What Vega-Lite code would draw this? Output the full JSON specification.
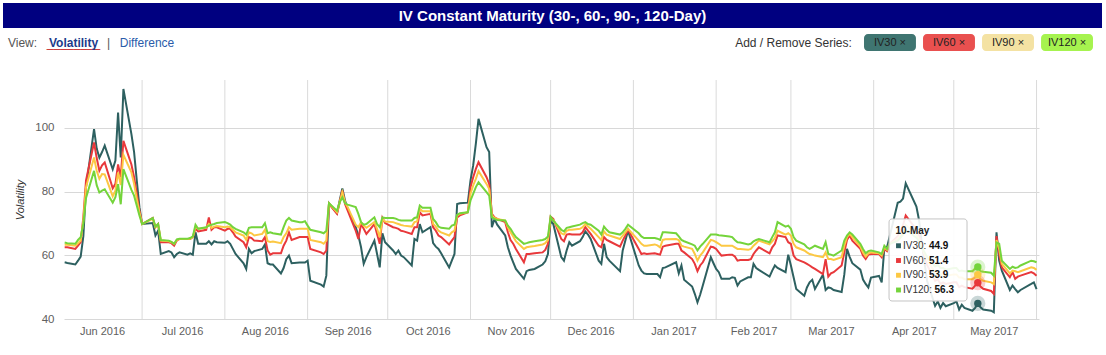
{
  "$schema": "https://vega.github.io/schema/vega-lite/v6.json",
  "background": "#ffffff",
  "padding": {"left": 3, "top": 3, "right": 3, "bottom": 3},
  "config": {"view": {"stroke": null}, "font": "Liberation Sans"},
  "datasets": {
    "iv": [
      {"date": "2016-06-02", "IV30": 57.8, "IV60": 62.5, "IV90": 63.3, "IV120": 64.0},
      {"date": "2016-06-03", "IV30": 57.6, "IV60": 62.5, "IV90": 63.3, "IV120": 63.8},
      {"date": "2016-06-06", "IV30": 57.1, "IV60": 62.0, "IV90": 63.0, "IV120": 63.6},
      {"date": "2016-06-07", "IV30": 58.3, "IV60": 63.0, "IV90": 63.8, "IV120": 64.8},
      {"date": "2016-06-08", "IV30": 59.6, "IV60": 64.1, "IV90": 64.6, "IV120": 65.7},
      {"date": "2016-06-09", "IV30": 66.0, "IV60": 72.0, "IV90": 71.0, "IV120": 70.0},
      {"date": "2016-06-10", "IV30": 81.4, "IV60": 83.5, "IV90": 81.4, "IV120": 78.0},
      {"date": "2016-06-13", "IV30": 99.6, "IV60": 95.4, "IV90": 90.7, "IV120": 86.5},
      {"date": "2016-06-14", "IV30": 93.5, "IV60": 90.5, "IV90": 86.5, "IV120": 82.0},
      {"date": "2016-06-15", "IV30": 90.6, "IV60": 86.5, "IV90": 84.0, "IV120": 79.7},
      {"date": "2016-06-16", "IV30": 92.4, "IV60": 88.2, "IV90": 85.5, "IV120": 80.3},
      {"date": "2016-06-17", "IV30": 94.4, "IV60": 89.1, "IV90": 85.4, "IV120": 80.7},
      {"date": "2016-06-20", "IV30": 87.0, "IV60": 81.0, "IV90": 78.5, "IV120": 76.5},
      {"date": "2016-06-21", "IV30": 89.7, "IV60": 82.4, "IV90": 80.3, "IV120": 78.2},
      {"date": "2016-06-22", "IV30": 104.8, "IV60": 88.5, "IV90": 86.0, "IV120": 82.3},
      {"date": "2016-06-23", "IV30": 90.7, "IV60": 84.5, "IV90": 82.0, "IV120": 76.0},
      {"date": "2016-06-24", "IV30": 112.2, "IV60": 95.9, "IV90": 91.5, "IV120": 87.0},
      {"date": "2016-06-27", "IV30": 98.0, "IV60": 88.5, "IV90": 86.0, "IV120": 80.5},
      {"date": "2016-06-28", "IV30": 92.4, "IV60": 84.5, "IV90": 82.4, "IV120": 78.7},
      {"date": "2016-06-29", "IV30": 83.5, "IV60": 79.3, "IV90": 77.7, "IV120": 75.6},
      {"date": "2016-06-30", "IV30": 75.1, "IV60": 74.0, "IV90": 73.5, "IV120": 72.5},
      {"date": "2016-07-01", "IV30": 69.8, "IV60": 69.8, "IV90": 69.8, "IV120": 69.8},
      {"date": "2016-07-05", "IV30": 70.1, "IV60": 71.7, "IV90": 71.4, "IV120": 71.7},
      {"date": "2016-07-06", "IV30": 66.2, "IV60": 68.8, "IV90": 68.8, "IV120": 69.0},
      {"date": "2016-07-07", "IV30": 67.7, "IV60": 69.8, "IV90": 69.6, "IV120": 69.8},
      {"date": "2016-07-08", "IV30": 60.4, "IV60": 64.1, "IV90": 64.6, "IV120": 64.8},
      {"date": "2016-07-11", "IV30": 61.3, "IV60": 64.1, "IV90": 64.4, "IV120": 64.6},
      {"date": "2016-07-12", "IV30": 60.9, "IV60": 63.8, "IV90": 64.1, "IV120": 64.2},
      {"date": "2016-07-13", "IV30": 59.4, "IV60": 63.0, "IV90": 63.6, "IV120": 63.6},
      {"date": "2016-07-14", "IV30": 60.4, "IV60": 64.6, "IV90": 64.8, "IV120": 65.0},
      {"date": "2016-07-15", "IV30": 60.9, "IV60": 65.1, "IV90": 65.1, "IV120": 65.2},
      {"date": "2016-07-18", "IV30": 60.2, "IV60": 65.1, "IV90": 65.1, "IV120": 65.2},
      {"date": "2016-07-19", "IV30": 60.6, "IV60": 65.1, "IV90": 65.2, "IV120": 65.4},
      {"date": "2016-07-20", "IV30": 60.2, "IV60": 65.7, "IV90": 65.7, "IV120": 65.9},
      {"date": "2016-07-21", "IV30": 67.2, "IV60": 68.3, "IV90": 68.8, "IV120": 69.6},
      {"date": "2016-07-22", "IV30": 63.6, "IV60": 67.5, "IV90": 68.3, "IV120": 68.3},
      {"date": "2016-07-25", "IV30": 63.6, "IV60": 68.0, "IV90": 68.6, "IV120": 68.8},
      {"date": "2016-07-26", "IV30": 64.4, "IV60": 71.9, "IV90": 69.8, "IV120": 69.3},
      {"date": "2016-07-27", "IV30": 63.4, "IV60": 68.0, "IV90": 68.6, "IV120": 69.6},
      {"date": "2016-07-28", "IV30": 64.4, "IV60": 68.8, "IV90": 69.0, "IV120": 69.8},
      {"date": "2016-07-29", "IV30": 64.1, "IV60": 68.8, "IV90": 69.2, "IV120": 70.1},
      {"date": "2016-08-01", "IV30": 63.9, "IV60": 67.7, "IV90": 68.8, "IV120": 70.4},
      {"date": "2016-08-02", "IV30": 64.4, "IV60": 68.3, "IV90": 69.0, "IV120": 70.1},
      {"date": "2016-08-03", "IV30": 63.6, "IV60": 68.3, "IV90": 68.8, "IV120": 69.6},
      {"date": "2016-08-04", "IV30": 62.0, "IV60": 67.2, "IV90": 68.0, "IV120": 68.8},
      {"date": "2016-08-05", "IV30": 60.4, "IV60": 65.9, "IV90": 67.2, "IV120": 68.3},
      {"date": "2016-08-08", "IV30": 57.5, "IV60": 64.1, "IV90": 66.2, "IV120": 67.2},
      {"date": "2016-08-09", "IV30": 55.7, "IV60": 62.5, "IV90": 64.8, "IV120": 66.5},
      {"date": "2016-08-10", "IV30": 62.0, "IV60": 65.7, "IV90": 67.2, "IV120": 68.6},
      {"date": "2016-08-11", "IV30": 60.6, "IV60": 65.4, "IV90": 66.9, "IV120": 68.8},
      {"date": "2016-08-12", "IV30": 61.3, "IV60": 64.6, "IV90": 66.2, "IV120": 68.8},
      {"date": "2016-08-15", "IV30": 62.0, "IV60": 64.4, "IV90": 66.7, "IV120": 68.8},
      {"date": "2016-08-16", "IV30": 63.4, "IV60": 65.7, "IV90": 68.0, "IV120": 70.1},
      {"date": "2016-08-17", "IV30": 57.5, "IV60": 61.5, "IV90": 64.4, "IV120": 66.9},
      {"date": "2016-08-18", "IV30": 57.1, "IV60": 60.2, "IV90": 64.2, "IV120": 67.2},
      {"date": "2016-08-19", "IV30": 57.1, "IV60": 60.6, "IV90": 64.3, "IV120": 66.9},
      {"date": "2016-08-22", "IV30": 54.3, "IV60": 60.6, "IV90": 63.8, "IV120": 66.5},
      {"date": "2016-08-23", "IV30": 56.0, "IV60": 63.0, "IV90": 65.7, "IV120": 68.8},
      {"date": "2016-08-24", "IV30": 58.8, "IV60": 64.6, "IV90": 66.9, "IV120": 70.9},
      {"date": "2016-08-25", "IV30": 59.9, "IV60": 67.2, "IV90": 68.8, "IV120": 71.7},
      {"date": "2016-08-26", "IV30": 57.5, "IV60": 64.8, "IV90": 68.0, "IV120": 70.9},
      {"date": "2016-08-29", "IV30": 57.7, "IV60": 65.7, "IV90": 68.3, "IV120": 70.4},
      {"date": "2016-08-30", "IV30": 57.7, "IV60": 65.7, "IV90": 68.3, "IV120": 70.4},
      {"date": "2016-08-31", "IV30": 57.7, "IV60": 65.7, "IV90": 68.3, "IV120": 70.7},
      {"date": "2016-09-01", "IV30": 58.3, "IV60": 65.7, "IV90": 68.3, "IV120": 69.3},
      {"date": "2016-09-02", "IV30": 52.0, "IV60": 62.0, "IV90": 64.8, "IV120": 68.0},
      {"date": "2016-09-06", "IV30": 50.8, "IV60": 60.9, "IV90": 64.1, "IV120": 67.2},
      {"date": "2016-09-07", "IV30": 50.2, "IV60": 60.4, "IV90": 63.6, "IV120": 66.9},
      {"date": "2016-09-08", "IV30": 53.6, "IV60": 61.5, "IV90": 64.6, "IV120": 67.7},
      {"date": "2016-09-09", "IV30": 76.3, "IV60": 76.1, "IV90": 76.3, "IV120": 76.3},
      {"date": "2016-09-12", "IV30": 73.2, "IV60": 73.0, "IV90": 73.5, "IV120": 74.0},
      {"date": "2016-09-13", "IV30": 77.2, "IV60": 76.6, "IV90": 76.6, "IV120": 76.6},
      {"date": "2016-09-14", "IV30": 81.0, "IV60": 80.3, "IV90": 79.8, "IV120": 78.2},
      {"date": "2016-09-15", "IV30": 77.2, "IV60": 76.1, "IV90": 76.6, "IV120": 76.3},
      {"date": "2016-09-16", "IV30": 74.6, "IV60": 74.0, "IV90": 75.1, "IV120": 75.9},
      {"date": "2016-09-19", "IV30": 68.8, "IV60": 67.7, "IV90": 69.6, "IV120": 75.1},
      {"date": "2016-09-20", "IV30": 66.2, "IV60": 65.1, "IV90": 68.8, "IV120": 73.0},
      {"date": "2016-09-21", "IV30": 62.5, "IV60": 69.8, "IV90": 70.4, "IV120": 70.4},
      {"date": "2016-09-22", "IV30": 57.3, "IV60": 68.3, "IV90": 69.3, "IV120": 69.6},
      {"date": "2016-09-23", "IV30": 59.4, "IV60": 66.7, "IV90": 68.6, "IV120": 69.8},
      {"date": "2016-09-26", "IV30": 64.6, "IV60": 69.8, "IV90": 70.4, "IV120": 71.9},
      {"date": "2016-09-27", "IV30": 60.4, "IV60": 66.7, "IV90": 68.3, "IV120": 69.8},
      {"date": "2016-09-28", "IV30": 56.2, "IV60": 63.6, "IV90": 65.7, "IV120": 68.8},
      {"date": "2016-09-29", "IV30": 66.9, "IV60": 71.7, "IV90": 71.4, "IV120": 71.9},
      {"date": "2016-09-30", "IV30": 64.1, "IV60": 70.1, "IV90": 70.6, "IV120": 71.7},
      {"date": "2016-10-03", "IV30": 61.5, "IV60": 68.8, "IV90": 70.4, "IV120": 71.7},
      {"date": "2016-10-04", "IV30": 60.4, "IV60": 68.6, "IV90": 70.1, "IV120": 71.5},
      {"date": "2016-10-05", "IV30": 61.5, "IV60": 68.3, "IV90": 69.8, "IV120": 71.1},
      {"date": "2016-10-06", "IV30": 59.9, "IV60": 67.7, "IV90": 69.5, "IV120": 70.9},
      {"date": "2016-10-07", "IV30": 59.4, "IV60": 67.5, "IV90": 69.3, "IV120": 70.9},
      {"date": "2016-10-10", "IV30": 56.8, "IV60": 66.7, "IV90": 69.0, "IV120": 70.9},
      {"date": "2016-10-11", "IV30": 65.1, "IV60": 68.8, "IV90": 70.4, "IV120": 71.7},
      {"date": "2016-10-12", "IV30": 64.6, "IV60": 68.8, "IV90": 70.6, "IV120": 71.9},
      {"date": "2016-10-13", "IV30": 69.8, "IV60": 73.5, "IV90": 74.6, "IV120": 75.6},
      {"date": "2016-10-14", "IV30": 67.2, "IV60": 72.5, "IV90": 73.8, "IV120": 74.9},
      {"date": "2016-10-17", "IV30": 68.8, "IV60": 73.0, "IV90": 73.8, "IV120": 74.9},
      {"date": "2016-10-18", "IV30": 63.8, "IV60": 68.8, "IV90": 69.8, "IV120": 71.4},
      {"date": "2016-10-19", "IV30": 62.7, "IV60": 67.7, "IV90": 69.0, "IV120": 70.4},
      {"date": "2016-10-20", "IV30": 62.0, "IV60": 66.2, "IV90": 67.7, "IV120": 69.0},
      {"date": "2016-10-21", "IV30": 60.6, "IV60": 65.7, "IV90": 67.2, "IV120": 68.6},
      {"date": "2016-10-24", "IV30": 56.2, "IV60": 63.4, "IV90": 66.2, "IV120": 68.3},
      {"date": "2016-10-25", "IV30": 58.3, "IV60": 64.6, "IV90": 67.2, "IV120": 69.3},
      {"date": "2016-10-26", "IV30": 60.4, "IV60": 65.7, "IV90": 67.7, "IV120": 69.6},
      {"date": "2016-10-27", "IV30": 76.1, "IV60": 71.9, "IV90": 72.5, "IV120": 72.7},
      {"date": "2016-10-28", "IV30": 76.3, "IV60": 72.5, "IV90": 73.0, "IV120": 73.2},
      {"date": "2016-10-31", "IV30": 76.5, "IV60": 73.5, "IV90": 73.5, "IV120": 73.5},
      {"date": "2016-11-01", "IV30": 83.5, "IV60": 81.4, "IV90": 79.3, "IV120": 77.2},
      {"date": "2016-11-02", "IV30": 88.2, "IV60": 84.5, "IV90": 81.9, "IV120": 79.3},
      {"date": "2016-11-03", "IV30": 95.0, "IV60": 87.1, "IV90": 84.0, "IV120": 81.4},
      {"date": "2016-11-04", "IV30": 102.8, "IV60": 89.2, "IV90": 86.4, "IV120": 82.9},
      {"date": "2016-11-07", "IV30": 93.9, "IV60": 84.5, "IV90": 82.4, "IV120": 79.8},
      {"date": "2016-11-08", "IV30": 92.4, "IV60": 82.4, "IV90": 80.8, "IV120": 78.7},
      {"date": "2016-11-09", "IV30": 68.8, "IV60": 73.0, "IV90": 72.5, "IV120": 71.9},
      {"date": "2016-11-10", "IV30": 71.4, "IV60": 71.9, "IV90": 71.7, "IV120": 71.4},
      {"date": "2016-11-11", "IV30": 69.6, "IV60": 71.4, "IV90": 71.4, "IV120": 71.1},
      {"date": "2016-11-14", "IV30": 66.2, "IV60": 70.4, "IV90": 70.9, "IV120": 70.9},
      {"date": "2016-11-15", "IV30": 62.5, "IV60": 67.2, "IV90": 68.8, "IV120": 69.3},
      {"date": "2016-11-16", "IV30": 59.9, "IV60": 64.8, "IV90": 67.2, "IV120": 68.3},
      {"date": "2016-11-17", "IV30": 57.8, "IV60": 63.6, "IV90": 65.9, "IV120": 66.9},
      {"date": "2016-11-18", "IV30": 55.7, "IV60": 62.0, "IV90": 64.4, "IV120": 65.7},
      {"date": "2016-11-21", "IV30": 52.6, "IV60": 57.8, "IV90": 62.0, "IV120": 63.6},
      {"date": "2016-11-22", "IV30": 55.0, "IV60": 60.4, "IV90": 62.5, "IV120": 63.8},
      {"date": "2016-11-23", "IV30": 55.4, "IV60": 60.4, "IV90": 62.7, "IV120": 64.1},
      {"date": "2016-11-25", "IV30": 55.7, "IV60": 60.6, "IV90": 62.9, "IV120": 64.4},
      {"date": "2016-11-28", "IV30": 57.1, "IV60": 60.9, "IV90": 63.4, "IV120": 64.8},
      {"date": "2016-11-29", "IV30": 58.1, "IV60": 61.7, "IV90": 63.8, "IV120": 65.1},
      {"date": "2016-11-30", "IV30": 60.4, "IV60": 63.6, "IV90": 64.8, "IV120": 65.9},
      {"date": "2016-12-01", "IV30": 70.9, "IV60": 72.1, "IV90": 71.7, "IV120": 72.1},
      {"date": "2016-12-02", "IV30": 69.8, "IV60": 71.4, "IV90": 71.1, "IV120": 70.9},
      {"date": "2016-12-05", "IV30": 59.4, "IV60": 65.1, "IV90": 66.9, "IV120": 68.0},
      {"date": "2016-12-06", "IV30": 58.3, "IV60": 64.4, "IV90": 66.5, "IV120": 67.5},
      {"date": "2016-12-07", "IV30": 61.5, "IV60": 66.5, "IV90": 67.7, "IV120": 68.6},
      {"date": "2016-12-08", "IV30": 64.1, "IV60": 66.7, "IV90": 68.0, "IV120": 68.8},
      {"date": "2016-12-09", "IV30": 63.0, "IV60": 66.5, "IV90": 68.0, "IV120": 69.0},
      {"date": "2016-12-12", "IV30": 64.4, "IV60": 66.5, "IV90": 68.3, "IV120": 69.6},
      {"date": "2016-12-13", "IV30": 65.7, "IV60": 67.2, "IV90": 68.8, "IV120": 70.1},
      {"date": "2016-12-14", "IV30": 67.5, "IV60": 68.8, "IV90": 69.8, "IV120": 70.4},
      {"date": "2016-12-15", "IV30": 66.5, "IV60": 67.7, "IV90": 69.0, "IV120": 69.8},
      {"date": "2016-12-16", "IV30": 65.1, "IV60": 66.7, "IV90": 68.3, "IV120": 69.6},
      {"date": "2016-12-19", "IV30": 58.3, "IV60": 63.0, "IV90": 65.7, "IV120": 67.7},
      {"date": "2016-12-20", "IV30": 57.3, "IV60": 62.5, "IV90": 64.8, "IV120": 66.5},
      {"date": "2016-12-21", "IV30": 63.6, "IV60": 65.7, "IV90": 67.5, "IV120": 69.0},
      {"date": "2016-12-22", "IV30": 59.4, "IV60": 64.8, "IV90": 66.5, "IV120": 68.0},
      {"date": "2016-12-23", "IV30": 58.3, "IV60": 64.4, "IV90": 66.2, "IV120": 67.2},
      {"date": "2016-12-27", "IV30": 55.0, "IV60": 62.7, "IV90": 65.1, "IV120": 66.5},
      {"date": "2016-12-28", "IV30": 61.5, "IV60": 64.6, "IV90": 66.2, "IV120": 67.2},
      {"date": "2016-12-29", "IV30": 64.6, "IV60": 66.2, "IV90": 67.2, "IV120": 68.3},
      {"date": "2016-12-30", "IV30": 67.7, "IV60": 68.0, "IV90": 68.3, "IV120": 69.6},
      {"date": "2017-01-03", "IV30": 56.8, "IV60": 62.0, "IV90": 64.6, "IV120": 66.9},
      {"date": "2017-01-04", "IV30": 55.2, "IV60": 60.4, "IV90": 63.6, "IV120": 65.9},
      {"date": "2017-01-05", "IV30": 54.3, "IV60": 60.6, "IV90": 63.0, "IV120": 65.4},
      {"date": "2017-01-06", "IV30": 54.1, "IV60": 60.4, "IV90": 63.0, "IV120": 65.4},
      {"date": "2017-01-09", "IV30": 54.1, "IV60": 60.6, "IV90": 63.4, "IV120": 65.4},
      {"date": "2017-01-10", "IV30": 54.1, "IV60": 60.4, "IV90": 63.1, "IV120": 65.2},
      {"date": "2017-01-11", "IV30": 53.1, "IV60": 60.2, "IV90": 62.5, "IV120": 64.8},
      {"date": "2017-01-12", "IV30": 56.0, "IV60": 62.7, "IV90": 64.8, "IV120": 67.2},
      {"date": "2017-01-13", "IV30": 56.2, "IV60": 63.0, "IV90": 65.0, "IV120": 67.2},
      {"date": "2017-01-17", "IV30": 57.8, "IV60": 63.6, "IV90": 65.1, "IV120": 66.9},
      {"date": "2017-01-18", "IV30": 54.3, "IV60": 63.6, "IV90": 64.8, "IV120": 65.9},
      {"date": "2017-01-19", "IV30": 56.8, "IV60": 61.5, "IV90": 63.0, "IV120": 64.8},
      {"date": "2017-01-20", "IV30": 52.3, "IV60": 60.9, "IV90": 62.7, "IV120": 64.4},
      {"date": "2017-01-23", "IV30": 50.2, "IV60": 58.8, "IV90": 62.0, "IV120": 63.4},
      {"date": "2017-01-24", "IV30": 47.9, "IV60": 57.3, "IV90": 60.4, "IV120": 63.0},
      {"date": "2017-01-25", "IV30": 45.2, "IV60": 55.0, "IV90": 58.3, "IV120": 61.5},
      {"date": "2017-01-26", "IV30": 47.6, "IV60": 56.8, "IV90": 59.9, "IV120": 62.7},
      {"date": "2017-01-27", "IV30": 50.5, "IV60": 57.8, "IV90": 60.9, "IV120": 63.6},
      {"date": "2017-01-30", "IV30": 59.4, "IV60": 62.7, "IV90": 64.8, "IV120": 66.5},
      {"date": "2017-01-31", "IV30": 57.5, "IV60": 62.5, "IV90": 64.6, "IV120": 66.5},
      {"date": "2017-02-01", "IV30": 55.7, "IV60": 62.0, "IV90": 64.1, "IV120": 66.5},
      {"date": "2017-02-02", "IV30": 54.7, "IV60": 60.9, "IV90": 63.6, "IV120": 66.3},
      {"date": "2017-02-03", "IV30": 52.6, "IV60": 59.9, "IV90": 63.0, "IV120": 66.2},
      {"date": "2017-02-06", "IV30": 52.6, "IV60": 60.2, "IV90": 63.0, "IV120": 65.9},
      {"date": "2017-02-07", "IV30": 53.1, "IV60": 60.2, "IV90": 63.0, "IV120": 65.7},
      {"date": "2017-02-08", "IV30": 52.9, "IV60": 59.6, "IV90": 62.5, "IV120": 64.8},
      {"date": "2017-02-09", "IV30": 50.5, "IV60": 58.3, "IV90": 62.0, "IV120": 64.1},
      {"date": "2017-02-10", "IV30": 51.8, "IV60": 58.5, "IV90": 62.0, "IV120": 64.0},
      {"date": "2017-02-13", "IV30": 53.1, "IV60": 58.5, "IV90": 61.7, "IV120": 63.4},
      {"date": "2017-02-14", "IV30": 53.1, "IV60": 58.8, "IV90": 62.0, "IV120": 63.6},
      {"date": "2017-02-15", "IV30": 57.3, "IV60": 60.4, "IV90": 63.0, "IV120": 64.4},
      {"date": "2017-02-16", "IV30": 56.0, "IV60": 61.5, "IV90": 63.8, "IV120": 64.8},
      {"date": "2017-02-17", "IV30": 55.4, "IV60": 62.5, "IV90": 64.6, "IV120": 65.1},
      {"date": "2017-02-21", "IV30": 53.3, "IV60": 60.6, "IV90": 63.4, "IV120": 64.1},
      {"date": "2017-02-22", "IV30": 55.2, "IV60": 62.5, "IV90": 64.4, "IV120": 65.7},
      {"date": "2017-02-23", "IV30": 56.8, "IV60": 63.6, "IV90": 65.4, "IV120": 67.2},
      {"date": "2017-02-24", "IV30": 56.0, "IV60": 66.2, "IV90": 67.7, "IV120": 70.4},
      {"date": "2017-02-27", "IV30": 54.7, "IV60": 65.7, "IV90": 66.5, "IV120": 69.0},
      {"date": "2017-02-28", "IV30": 60.2, "IV60": 64.1, "IV90": 66.9, "IV120": 69.3},
      {"date": "2017-03-01", "IV30": 56.8, "IV60": 63.6, "IV90": 66.2, "IV120": 68.3},
      {"date": "2017-03-02", "IV30": 53.1, "IV60": 59.9, "IV90": 63.6, "IV120": 65.7},
      {"date": "2017-03-03", "IV30": 49.4, "IV60": 58.8, "IV90": 62.5, "IV120": 64.6},
      {"date": "2017-03-06", "IV30": 47.3, "IV60": 57.8, "IV90": 61.5, "IV120": 63.4},
      {"date": "2017-03-07", "IV30": 49.9, "IV60": 57.3, "IV90": 60.9, "IV120": 62.5},
      {"date": "2017-03-08", "IV30": 51.5, "IV60": 56.8, "IV90": 60.4, "IV120": 62.0},
      {"date": "2017-03-09", "IV30": 52.3, "IV60": 56.2, "IV90": 60.2, "IV120": 62.5},
      {"date": "2017-03-10", "IV30": 49.4, "IV60": 55.7, "IV90": 59.9, "IV120": 63.0},
      {"date": "2017-03-13", "IV30": 53.9, "IV60": 54.1, "IV90": 59.4, "IV120": 62.0},
      {"date": "2017-03-14", "IV30": 49.1, "IV60": 58.8, "IV90": 60.9, "IV120": 64.1},
      {"date": "2017-03-15", "IV30": 49.9, "IV60": 53.3, "IV90": 58.8, "IV120": 60.4},
      {"date": "2017-03-16", "IV30": 49.7, "IV60": 54.3, "IV90": 58.8, "IV120": 60.2},
      {"date": "2017-03-17", "IV30": 49.1, "IV60": 54.7, "IV90": 58.5, "IV120": 59.9},
      {"date": "2017-03-20", "IV30": 48.5, "IV60": 56.8, "IV90": 59.4, "IV120": 61.5},
      {"date": "2017-03-21", "IV30": 54.0, "IV60": 60.9, "IV90": 63.0, "IV120": 64.6},
      {"date": "2017-03-22", "IV30": 62.0, "IV60": 64.8, "IV90": 65.7, "IV120": 66.2},
      {"date": "2017-03-23", "IV30": 59.5, "IV60": 66.2, "IV90": 66.7, "IV120": 67.2},
      {"date": "2017-03-24", "IV30": 57.5, "IV60": 64.6, "IV90": 65.7, "IV120": 66.5},
      {"date": "2017-03-27", "IV30": 55.5, "IV60": 62.0, "IV90": 62.7, "IV120": 63.6},
      {"date": "2017-03-28", "IV30": 52.4, "IV60": 59.9, "IV90": 60.9, "IV120": 62.0},
      {"date": "2017-03-29", "IV30": 51.0, "IV60": 58.8, "IV90": 59.6, "IV120": 60.6},
      {"date": "2017-03-30", "IV30": 49.9, "IV60": 60.2, "IV90": 60.6, "IV120": 61.3},
      {"date": "2017-03-31", "IV30": 53.0, "IV60": 60.4, "IV90": 60.9, "IV120": 61.5},
      {"date": "2017-04-03", "IV30": 53.5, "IV60": 60.4, "IV90": 60.6, "IV120": 60.9},
      {"date": "2017-04-04", "IV30": 51.5, "IV60": 59.4, "IV90": 59.9, "IV120": 60.4},
      {"date": "2017-04-05", "IV30": 62.5, "IV60": 62.0, "IV90": 62.5, "IV120": 63.0},
      {"date": "2017-04-06", "IV30": 62.5, "IV60": 61.3, "IV90": 61.7, "IV120": 62.0},
      {"date": "2017-04-07", "IV30": 66.0, "IV60": 63.6, "IV90": 63.6, "IV120": 63.6},
      {"date": "2017-04-10", "IV30": 76.5, "IV60": 66.0, "IV90": 65.0, "IV120": 64.5},
      {"date": "2017-04-11", "IV30": 76.8, "IV60": 67.5, "IV90": 66.0, "IV120": 65.5},
      {"date": "2017-04-12", "IV30": 77.8, "IV60": 69.5, "IV90": 67.5, "IV120": 66.5},
      {"date": "2017-04-13", "IV30": 82.6, "IV60": 72.5, "IV90": 69.5, "IV120": 68.0},
      {"date": "2017-04-17", "IV30": 75.3, "IV60": 68.0, "IV90": 66.5, "IV120": 65.5},
      {"date": "2017-04-18", "IV30": 71.0, "IV60": 66.0, "IV90": 65.0, "IV120": 64.5},
      {"date": "2017-04-19", "IV30": 64.0, "IV60": 63.0, "IV90": 62.5, "IV120": 62.5},
      {"date": "2017-04-20", "IV30": 58.0, "IV60": 60.0, "IV90": 60.5, "IV120": 61.0},
      {"date": "2017-04-21", "IV30": 52.0, "IV60": 57.0, "IV90": 58.5, "IV120": 59.5},
      {"date": "2017-04-24", "IV30": 44.1, "IV60": 52.0, "IV90": 54.5, "IV120": 56.5},
      {"date": "2017-04-25", "IV30": 45.5, "IV60": 52.5, "IV90": 55.0, "IV120": 57.0},
      {"date": "2017-04-26", "IV30": 43.5, "IV60": 51.0, "IV90": 54.0, "IV120": 56.0},
      {"date": "2017-04-27", "IV30": 45.0, "IV60": 51.5, "IV90": 54.0, "IV120": 56.0},
      {"date": "2017-04-28", "IV30": 44.0, "IV60": 51.0, "IV90": 53.5, "IV120": 55.5},
      {"date": "2017-05-01", "IV30": 45.0, "IV60": 51.5, "IV90": 54.0, "IV120": 56.0},
      {"date": "2017-05-02", "IV30": 45.5, "IV60": 51.5, "IV90": 54.0, "IV120": 56.0},
      {"date": "2017-05-03", "IV30": 43.0, "IV60": 50.0, "IV90": 53.0, "IV120": 55.0},
      {"date": "2017-05-04", "IV30": 44.5, "IV60": 50.5, "IV90": 53.0, "IV120": 55.2},
      {"date": "2017-05-05", "IV30": 43.5, "IV60": 50.0, "IV90": 52.5, "IV120": 55.0},
      {"date": "2017-05-08", "IV30": 42.6, "IV60": 49.5, "IV90": 52.5, "IV120": 55.0},
      {"date": "2017-05-09", "IV30": 43.5, "IV60": 50.5, "IV90": 53.0, "IV120": 55.8},
      {"date": "2017-05-10", "IV30": 44.9, "IV60": 51.4, "IV90": 53.9, "IV120": 56.3},
      {"date": "2017-05-11", "IV30": 43.7, "IV60": 50.2, "IV90": 52.5, "IV120": 55.0},
      {"date": "2017-05-12", "IV30": 43.0, "IV60": 49.5, "IV90": 52.0, "IV120": 54.8},
      {"date": "2017-05-15", "IV30": 42.6, "IV60": 48.8, "IV90": 51.5, "IV120": 54.5},
      {"date": "2017-05-16", "IV30": 42.1, "IV60": 47.9, "IV90": 51.0, "IV120": 53.6},
      {"date": "2017-05-17", "IV30": 67.2, "IV60": 66.0, "IV90": 64.8, "IV120": 64.0},
      {"date": "2017-05-18", "IV30": 58.3, "IV60": 60.4, "IV90": 62.0, "IV120": 63.6},
      {"date": "2017-05-19", "IV30": 55.2, "IV60": 56.2, "IV90": 57.3, "IV120": 58.3},
      {"date": "2017-05-22", "IV30": 49.1, "IV60": 53.1, "IV90": 54.3, "IV120": 55.7},
      {"date": "2017-05-23", "IV30": 50.5, "IV60": 54.7, "IV90": 55.2, "IV120": 56.4},
      {"date": "2017-05-24", "IV30": 49.4, "IV60": 52.6, "IV90": 55.0, "IV120": 56.0},
      {"date": "2017-05-25", "IV30": 48.4, "IV60": 53.3, "IV90": 54.7, "IV120": 56.2},
      {"date": "2017-05-26", "IV30": 49.1, "IV60": 53.6, "IV90": 55.0, "IV120": 56.8},
      {"date": "2017-05-30", "IV30": 51.0, "IV60": 54.7, "IV90": 56.2, "IV120": 58.3},
      {"date": "2017-05-31", "IV30": 51.5, "IV60": 54.3, "IV90": 56.0, "IV120": 58.1},
      {"date": "2017-06-01", "IV30": 49.4, "IV60": 53.6, "IV90": 55.4, "IV120": 57.8}
    ],
    "hover": [
      {"series": "IV30", "label": "IV30:", "value": 44.9, "date": "2017-05-10"},
      {"series": "IV60", "label": "IV60:", "value": 51.4, "date": "2017-05-10"},
      {"series": "IV90", "label": "IV90:", "value": 53.9, "date": "2017-05-10"},
      {"series": "IV120", "label": "IV120:", "value": 56.3, "date": "2017-05-10"}
    ],
    "months": [
      {"date": "2016-07-01"}, {"date": "2016-08-01"}, {"date": "2016-09-01"}, {"date": "2016-10-01"},
      {"date": "2016-11-01"}, {"date": "2016-12-01"}, {"date": "2017-01-01"}, {"date": "2017-02-01"},
      {"date": "2017-03-01"}, {"date": "2017-04-01"}, {"date": "2017-05-01"}, {"date": "2017-06-01"}
    ]
  },
  "spacing": 28,
  "vconcat": [
    {
      "spacing": 6,
      "vconcat": [
        {
          "width": 1099,
          "height": 25,
          "view": {"fill": "#000080", "stroke": null},
          "data": {"values": [{"title": "IV Constant Maturity (30-, 60-, 90-, 120-Day)"}]},
          "mark": {"type": "text", "color": "#ffffff", "fontWeight": "bold", "fontSize": 15, "baseline": "middle", "align": "center"},
          "encoding": {"text": {"field": "title", "type": "nominal"}}
        },
        {
          "spacing": 545,
          "hconcat": [
            {
              "spacing": 0,
              "hconcat": [
                {
                  "width": 39, "height": 17,
                  "data": {"values": [{"t": "View:"}]},
                  "mark": {"type": "text", "fontSize": 12, "color": "#555555", "baseline": "middle"},
                  "encoding": {"text": {"field": "t", "type": "nominal"}}
                },
                {
                  "width": 63, "height": 17,
                  "data": {"values": [{"t": "Volatility"}]},
                  "layer": [
                    {"mark": {"type": "text", "text": "________", "fontSize": 12, "color": "#c62828", "baseline": "middle"}, "encoding": {}},
                    {"mark": {"type": "text", "fontSize": 12, "fontWeight": "bold", "color": "#1c3b8a", "baseline": "middle"}, "encoding": {"text": {"field": "t", "type": "nominal"}}}
                  ]
                },
                {
                  "width": 7, "height": 17,
                  "data": {"values": [{"t": "|"}]},
                  "mark": {"type": "text", "fontSize": 12, "color": "#555555", "baseline": "middle"},
                  "encoding": {"text": {"field": "t", "type": "nominal"}}
                },
                {
                  "width": 70, "height": 17,
                  "data": {"values": [{"t": "Difference"}]},
                  "mark": {"type": "text", "fontSize": 12, "color": "#2a5caa", "baseline": "middle"},
                  "encoding": {"text": {"field": "t", "type": "nominal"}}
                }
              ]
            },
            {
              "spacing": 0,
              "hconcat": [
                {
                  "width": 133, "height": 17,
                  "data": {"values": [{"t": "Add / Remove Series:"}]},
                  "mark": {"type": "text", "fontSize": 12, "color": "#333333", "baseline": "middle"},
                  "encoding": {"text": {"field": "t", "type": "nominal"}}
                },
                {
                  "width": 237, "height": 17,
                  "data": {"values": [
                    {"series": "IV30", "label": "IV30 ×"},
                    {"series": "IV60", "label": "IV60 ×"},
                    {"series": "IV90", "label": "IV90 ×"},
                    {"series": "IV120", "label": "IV120 ×"}
                  ]},
                  "encoding": {
                    "x": {"field": "series", "type": "nominal", "scale": {"domain": ["IV30", "IV60", "IV90", "IV120"], "paddingInner": 0.12, "paddingOuter": 0.068}, "axis": null}
                  },
                  "layer": [
                    {
                      "mark": {"type": "bar", "cornerRadius": 4},
                      "encoding": {"fill": {"field": "series", "type": "nominal", "scale": {"domain": ["IV30", "IV60", "IV90", "IV120"], "range": ["#3f7571", "#e9504f", "#f4e2a3", "#a6f34f"]}, "legend": null}}
                    },
                    {
                      "mark": {"type": "text", "fontSize": 11, "color": "#222222", "baseline": "middle"},
                      "encoding": {"text": {"field": "label", "type": "nominal"}}
                    }
                  ]
                }
              ]
            }
          ]
        }
      ]
    },
    {
      "width": 1099,
      "height": 239,
      "resolve": {"scale": {"y": "independent"}},
      "layer": [
        {
          "layer": [
            {
              "data": {"name": "months"},
              "mark": {"type": "rule", "color": "#dadada", "strokeWidth": 1},
              "encoding": {
                "x": {
                  "field": "date", "type": "temporal",
                  "scale": {"type": "utc", "range": [61, 1036], "domain": [{"year": 2016, "month": 6, "date": 1, "hours": 18, "utc": true}, {"year": 2017, "month": 6, "date": 1, "hours": 22, "utc": true}]},
                  "axis": {
                    "title": null, "grid": false, "ticks": false, "domain": false, "labelFlush": false, "labelOverlap": false,
                    "values": [
                      {"year": 2016, "month": 6, "date": 16, "utc": true},
                      {"year": 2016, "month": 7, "date": 16, "utc": true},
                      {"year": 2016, "month": 8, "date": 16, "utc": true},
                      {"year": 2016, "month": 9, "date": 16, "utc": true},
                      {"year": 2016, "month": 10, "date": 16, "utc": true},
                      {"year": 2016, "month": 11, "date": 16, "utc": true},
                      {"year": 2016, "month": 12, "date": 16, "utc": true},
                      {"year": 2017, "month": 1, "date": 16, "utc": true},
                      {"year": 2017, "month": 2, "date": 15, "utc": true},
                      {"year": 2017, "month": 3, "date": 16, "utc": true},
                      {"year": 2017, "month": 4, "date": 16, "utc": true},
                      {"year": 2017, "month": 5, "date": 16, "utc": true}
                    ],
                    "labelExpr": "utcFormat(datum.value, '%b %Y')",
                    "labelFontSize": 11, "labelColor": "#606060", "labelPadding": 6
                  }
                }
              }
            },
            {
              "data": {"name": "iv"},
              "mark": {"type": "line", "strokeWidth": 2},
              "encoding": {
                "x": {"field": "date", "type": "temporal"},
                "y": {
                  "field": "IV30", "type": "quantitative",
                  "scale": {"domain": [40, 115], "nice": false, "zero": false},
                  "axis": {
                    "values": [40, 60, 80, 100], "grid": true, "gridColor": "#d8d8d8", "ticks": false, "domain": false, "offset": -61,
                    "labelFontSize": 11.5, "labelColor": "#606060", "labelPadding": 10,
                    "title": "Volatility", "titleFontStyle": "italic", "titleFontWeight": "normal", "titleFontSize": 11, "titleColor": "#333333",
                    "titleX": -43.5, "titleY": 119.5, "titleAngle": 270, "titleAlign": "center", "titleBaseline": "middle"
                  }
                },
                "color": {"datum": "IV30", "type": "nominal", "scale": {"domain": ["IV30", "IV60", "IV90", "IV120"], "range": ["#2d6060", "#e8383b", "#fcc843", "#74d43b"]}, "legend": null}
              }
            },
            {
              "data": {"name": "iv"},
              "mark": {"type": "line", "strokeWidth": 2},
              "encoding": {
                "x": {"field": "date", "type": "temporal"},
                "y": {"field": "IV60", "type": "quantitative"},
                "color": {"datum": "IV60", "type": "nominal", "legend": null}
              }
            },
            {
              "data": {"name": "iv"},
              "mark": {"type": "line", "strokeWidth": 2},
              "encoding": {
                "x": {"field": "date", "type": "temporal"},
                "y": {"field": "IV90", "type": "quantitative"},
                "color": {"datum": "IV90", "type": "nominal", "legend": null}
              }
            },
            {
              "data": {"name": "iv"},
              "mark": {"type": "line", "strokeWidth": 2},
              "encoding": {
                "x": {"field": "date", "type": "temporal"},
                "y": {"field": "IV120", "type": "quantitative"},
                "color": {"datum": "IV120", "type": "nominal", "legend": null}
              }
            },
            {
              "data": {"name": "hover"},
              "mark": {"type": "circle", "size": 230, "opacity": 0.25},
              "encoding": {
                "x": {"field": "date", "type": "temporal"},
                "y": {"field": "value", "type": "quantitative"},
                "color": {"field": "series", "type": "nominal", "legend": null}
              }
            },
            {
              "data": {"name": "hover"},
              "mark": {"type": "circle", "size": 55, "opacity": 1},
              "encoding": {
                "x": {"field": "date", "type": "temporal"},
                "y": {"field": "value", "type": "quantitative"},
                "color": {"field": "series", "type": "nominal", "legend": null}
              }
            },
            {
              "data": {"values": [{}]},
              "mark": {"type": "rect", "fill": "#ffffff", "fillOpacity": 0.9, "stroke": "#c4c4c4", "strokeWidth": 1, "cornerRadius": 3},
              "encoding": {
                "x": {"datum": {"year": 2017, "month": 4, "date": 6, "hours": 18, "utc": true}, "type": "temporal"},
                "x2": {"datum": {"year": 2017, "month": 5, "date": 5, "hours": 23, "utc": true}},
                "y": {"datum": 71.4, "type": "quantitative"},
                "y2": {"datum": 45.65}
              }
            }
          ]
        },
        {
          "layer": [
            {
              "data": {"values": [{"row": "10-May"}]},
              "mark": {"type": "text", "align": "left", "baseline": "middle", "fontWeight": "bold", "fontSize": 10, "color": "#222222"},
              "encoding": {
                "x": {"datum": {"year": 2017, "month": 4, "date": 9, "hours": 4, "utc": true}, "type": "temporal"},
                "y": {"field": "row", "type": "nominal", "scale": {"type": "point", "domain": ["10-May", "IV30", "IV60", "IV90", "IV120"], "range": [151, 210], "padding": 0}, "axis": null},
                "text": {"field": "row", "type": "nominal"}
              }
            },
            {
              "data": {"name": "hover"},
              "mark": {"type": "square", "size": 24, "filled": true, "opacity": 1},
              "encoding": {
                "x": {"datum": {"year": 2017, "month": 4, "date": 10, "hours": 7, "utc": true}, "type": "temporal"},
                "y": {"field": "series", "type": "nominal", "axis": null},
                "color": {"field": "series", "type": "nominal", "legend": null}
              }
            },
            {
              "data": {"name": "hover"},
              "mark": {"type": "text", "align": "left", "baseline": "middle", "fontSize": 10, "color": "#333333"},
              "encoding": {
                "x": {"datum": {"year": 2017, "month": 4, "date": 11, "hours": 23, "minutes": 30, "utc": true}, "type": "temporal"},
                "y": {"field": "series", "type": "nominal", "axis": null},
                "text": {"field": "label", "type": "nominal"}
              }
            },
            {
              "data": {"name": "hover"},
              "transform": [{"filter": {"field": "series", "oneOf": ["IV30", "IV60", "IV90"]}}],
              "mark": {"type": "text", "align": "left", "baseline": "middle", "fontSize": 10, "fontWeight": "bold", "color": "#111111"},
              "encoding": {
                "x": {"datum": {"year": 2017, "month": 4, "date": 21, "hours": 17, "utc": true}, "type": "temporal"},
                "y": {"field": "series", "type": "nominal", "axis": null},
                "text": {"field": "value", "type": "quantitative", "format": ".1f"}
              }
            },
            {
              "data": {"name": "hover"},
              "transform": [{"filter": {"field": "series", "equal": "IV120"}}],
              "mark": {"type": "text", "align": "left", "baseline": "middle", "fontSize": 10, "fontWeight": "bold", "color": "#111111"},
              "encoding": {
                "x": {"datum": {"year": 2017, "month": 4, "date": 23, "hours": 19, "utc": true}, "type": "temporal"},
                "y": {"field": "series", "type": "nominal", "axis": null},
                "text": {"field": "value", "type": "quantitative", "format": ".1f"}
              }
            }
          ]
        }
      ]
    }
  ]
}
